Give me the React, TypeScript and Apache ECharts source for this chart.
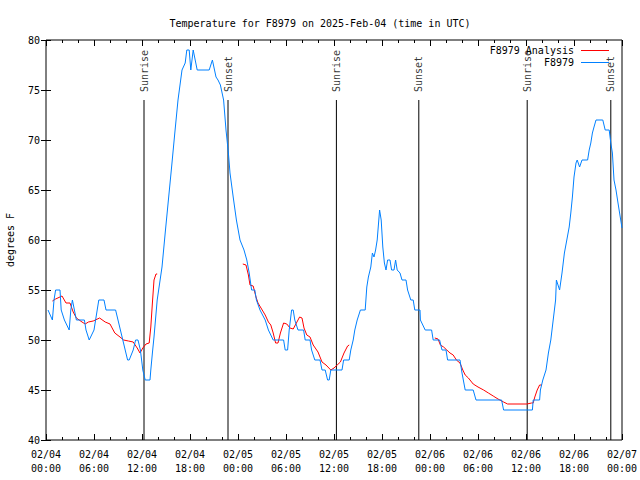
import React, { useEffect, useRef } from "react";
import * as echarts from "echarts";

// hours since 2025-02-04 00:00 UTC
const blueHours = [
  0.25, 0.8, 1.0, 1.2, 1.75, 1.9, 2.3, 2.9, 3.1, 3.3, 3.8, 4.8, 5.0, 5.4, 6.0, 6.4, 6.6, 7.25, 7.5, 8.7,
  9.3, 9.6, 9.9, 10.2, 10.4, 10.9, 11.2, 11.5, 11.8, 12.1, 12.4, 13.0, 13.1, 13.3, 13.5, 13.9, 14.5, 14.9,
  15.3, 15.7, 16.1, 16.5, 17.0, 17.4, 17.6, 17.9, 18.1, 18.4, 18.9, 20.4, 20.8, 21.25, 21.5, 21.8, 22.2,
  22.5, 22.8, 23.0, 23.4, 23.8, 24.25, 24.75, 25.1, 25.4, 25.7, 26.1, 26.3, 26.75, 27.4, 27.8, 28.4, 29.7,
  29.9, 30.2, 30.4, 30.7, 30.9, 31.1, 31.5, 32.2, 32.4, 33.0, 33.2, 33.6, 34.25, 34.5, 34.9, 35.2, 35.4,
  35.6, 37.0, 37.2, 37.9, 38.1, 38.4, 38.6, 38.9, 39.3, 39.9, 40.1, 40.3, 40.6, 40.8, 41.0, 41.2, 41.4,
  41.7, 41.9, 42.1, 42.3, 42.5, 42.7, 43.0, 43.2, 43.5, 43.7, 43.9, 44.25, 44.5, 45.0, 45.2, 45.6, 45.9,
  46.1, 46.75, 46.8, 47.4, 48.2, 48.4, 49.2, 49.5, 50.0, 50.2, 51.75, 52.0, 52.4, 53.4, 53.75, 56.95, 57.2,
  60.8, 60.9, 61.7, 61.8, 62.1, 62.5, 62.8, 63.1, 63.4, 63.7, 63.8, 64.2, 64.5, 64.8, 65.1, 65.4, 65.6,
  65.8, 66.0, 66.25, 66.4, 66.7, 67.0, 67.7, 67.9, 68.1, 68.3, 68.5, 68.75, 69.6, 69.9, 70.4, 70.6, 70.8,
  71.0, 71.25, 71.5, 71.7, 72.0,
];
const blueTemps = [
  53, 52, 54, 55, 55, 53, 52, 51, 53, 54, 52, 52, 51, 50, 51, 53, 54, 54, 53, 53,
  51, 50, 49, 48, 48, 49, 50, 50, 49, 47, 46, 46, 47, 48.7, 50.3, 54, 57.3, 60.7,
  64, 67.3, 70.7, 74, 77, 77.7, 79, 79, 77, 79, 77, 77, 78, 76.3, 76, 75.5, 74,
  71, 68.7, 66.7, 64.3, 62, 60, 59, 58, 56.7, 55, 55, 54, 53, 52, 51, 50, 50,
  49, 49, 51, 53, 53, 52, 51, 51, 50, 50, 49, 48, 48, 47, 47, 46, 46,
  47, 47, 48, 48, 49, 50, 51, 52, 53, 53, 55.3, 56.3, 57.3, 58.7, 58.3, 59, 60,
  63, 62, 59.3, 57.7, 57, 58, 58, 57, 57, 58, 57, 56.7, 56, 56, 55, 54, 54,
  53, 53, 52, 51, 51, 50, 50, 49, 49, 48, 48, 46.7, 45, 45, 44, 44, 43,
  43, 44, 44, 45, 46, 47, 48.7, 50, 52, 54, 56, 55, 56.7, 58.7, 60, 61.3, 62.7,
  64.3, 66.3, 67.7, 68, 67.3, 68, 68, 69, 69.7, 70.7, 71.3, 72, 72, 71, 71, 69.7, 68.7,
  66, 65, 63.7, 62.7, 61.2,
];

const analysis1Hours = [0.8, 1.2, 2.0, 2.5, 3.0, 3.4, 3.8, 4.5, 4.9, 5.3, 5.9, 6.7, 7.4, 8.0, 8.6, 9.25, 9.7, 10.3, 10.9, 11.4, 11.75, 12.1, 12.5, 12.9, 13.1, 13.3, 13.5, 13.75, 13.9];
const analysis1Temps = [53.9, 54.1, 54.4, 53.7, 53.7, 52.8, 52.2, 51.8, 51.6, 51.8, 51.9, 52.2, 51.8, 51.6, 50.7, 50.3, 50.0, 49.9, 49.8, 49.2, 48.7, 49.2, 49.6, 49.7, 51.3, 53.7, 56.0, 56.6, 56.6];
const analysis2Hours = [24.6, 25.0, 25.3, 25.5, 25.9, 26.25, 26.5, 26.95, 27.4, 27.8, 28.1, 28.4, 28.7, 29.0, 29.3, 29.7, 30.1, 30.5, 30.9, 31.3, 31.7, 32.0, 32.25, 32.6, 33.0, 33.4, 34.0, 34.5, 35.0, 35.6, 36.0, 36.4, 36.8, 37.25, 37.7, 37.9];
const analysis2Temps = [57.6, 57.5, 56.5, 55.5, 55.4, 54.3, 53.7, 53.1, 52.5, 51.8, 51.5, 50.7, 49.7, 49.7, 50.7, 51.7, 51.6, 51.2, 51.1, 51.7, 52.3, 52.2, 51.2, 50.5, 50.3, 49.5, 48.8, 47.8, 47.5, 47.0, 47.2, 47.5, 47.8, 48.7, 49.4, 49.5];
const analysis3Hours = [48.6, 49.0, 49.3, 49.7, 50.1, 50.5, 50.9, 51.3, 51.75, 52.1, 52.4, 52.8, 53.4, 54.0, 54.7, 55.3, 55.9, 56.5, 57.2, 57.7, 60.1, 60.7, 60.9, 61.1, 61.4, 61.7, 62.0];
const analysis3Temps = [50.2, 50.1, 49.5, 49.3, 49.0, 48.7, 48.5, 48.0, 47.7, 47.0, 46.5, 46.2, 45.6, 45.3, 45.0, 44.7, 44.4, 44.1, 43.8, 43.6, 43.6, 43.7, 43.7, 44.3, 45.0, 45.5, 45.5];

const sunHours = [12.25, 22.75, 36.3, 46.6, 60.15, 70.6];
const sunLabels = ["Sunrise", "Sunset", "Sunrise", "Sunset", "Sunrise", "Sunset"];
const sunLineTop = 74;
const sunLabelAt = 74.8;

const titleText = "Temperature for F8979 on 2025-Feb-04 (time in UTC)";
const analysisName = "F8979 Analysis";
const obsName = "F8979";
const yName = "degrees F";

const FONT = "DejaVu Sans Mono";
const RED = "#ff0000";
const BLUE = "#0080ff";

const zip = (a: number[], b: number[]) => a.map((v, i) => [v, b[i]]);

export default function App() {
  const ref = useRef<HTMLDivElement>(null);
  useEffect(() => {
    if (!ref.current) return;
    const chart = echarts.init(ref.current, null, { renderer: "svg" });
    const fmtX = (v: number) => {
      const day = 4 + Math.floor(v / 24);
      const hh = v % 24;
      return `02/0${day}\n${String(hh).padStart(2, "0")}:00`;
    };
    const textStyle = { fontFamily: FONT, fontSize: 10, color: "#000" };
    const redSeg = (h: number[], t: number[]) => ({
      name: analysisName,
      type: "line",
      data: zip(h, t),
      showSymbol: false,
      symbol: "none",
      color: RED,
      lineStyle: { color: RED, width: 1 },
      itemStyle: { color: RED },
      z: 3,
    });
    const sunLineData: any[] = [];
    sunHours.forEach((h) => {
      sunLineData.push([h, 40], [h, sunLineTop], [h, "-"]);
    });
    chart.setOption({
      animation: false,
      backgroundColor: "#fff",
      title: {
        text: titleText,
        left: "center",
        top: 13,
        textStyle: { ...textStyle, fontWeight: "normal" },
      },
      legend: {
        data: [
          { name: analysisName, icon: "rect", itemStyle: { color: RED } },
          { name: obsName, icon: "rect", itemStyle: { color: BLUE } },
        ],
        orient: "vertical",
        right: 31,
        top: 45,
        padding: 0,
        align: "right",
        itemWidth: 28,
        itemHeight: 1,
        itemGap: 1,
        textStyle: { ...textStyle, lineHeight: 11, padding: [0, 2, 0, 0] },
      },
      grid: {
        left: 46,
        right: 18,
        top: 40,
        bottom: 40,
        show: true,
        containLabel: false,
        outerBoundsMode: "none",
        borderColor: "#000",
        borderWidth: 1,
        backgroundColor: "transparent",
      },
      xAxis: [
        {
          type: "value",
          min: 0,
          max: 72,
          interval: 6,
          position: "bottom",
          axisLine: { show: false },
          axisTick: { show: true, inside: true, length: 6, lineStyle: { color: "#000" } },
          minorTick: { show: true, splitNumber: 3, length: 3, lineStyle: { color: "#000" } },
          splitLine: { show: false },
          axisLabel: { ...textStyle, margin: 7, lineHeight: 14, formatter: fmtX },
        },
        {
          type: "value",
          min: 0,
          max: 72,
          interval: 6,
          position: "top",
          axisLine: { show: false },
          axisTick: { show: true, inside: true, length: 6, lineStyle: { color: "#000" } },
          minorTick: { show: true, splitNumber: 3, length: 3, lineStyle: { color: "#000" } },
          splitLine: { show: false },
          axisLabel: { show: false },
        },
      ],
      yAxis: [
        {
          type: "value",
          min: 40,
          max: 80,
          interval: 5,
          position: "left",
          name: yName,
          nameLocation: "middle",
          nameGap: 31,
          nameRotate: 90,
          nameTextStyle: textStyle,
          axisLine: { show: false },
          axisTick: { show: true, inside: true, length: 5, lineStyle: { color: "#000" } },
          splitLine: { show: false },
          axisLabel: { ...textStyle, margin: 6 },
        },
        {
          type: "value",
          min: 40,
          max: 80,
          interval: 5,
          position: "right",
          axisLine: { show: false },
          axisTick: { show: true, inside: true, length: 5, lineStyle: { color: "#000" } },
          splitLine: { show: false },
          axisLabel: { show: false },
        },
      ],
      series: [
        {
          name: "sunlines",
          type: "line",
          data: sunLineData,
          showSymbol: false,
          symbol: "none",
          connectNulls: false,
          color: "#000",
          lineStyle: { color: "#000", width: 1 },
          z: 2,
          silent: true,
        },
        {
          name: "sunlabels",
          type: "scatter",
          data: sunHours.map((h, i) => ({ value: [h, sunLabelAt], name: sunLabels[i] })),
          symbolSize: 0,
          z: 2,
          label: {
            show: true,
            position: "inside",
            rotate: 90,
            align: "left",
            verticalAlign: "middle",
            formatter: (p: any) => p.name,
            ...textStyle,
          },
          silent: true,
        },
        redSeg(analysis1Hours, analysis1Temps),
        redSeg(analysis2Hours, analysis2Temps),
        redSeg(analysis3Hours, analysis3Temps),
        {
          name: obsName,
          type: "line",
          data: zip(blueHours, blueTemps),
          showSymbol: false,
          symbol: "none",
          color: BLUE,
          lineStyle: { color: BLUE, width: 1 },
          itemStyle: { color: BLUE },
          z: 4,
        },
      ],
    });
    return () => chart.dispose();
  }, []);
  return <div ref={ref} style={{ width: 640, height: 480, position: "absolute", left: 0, top: 0 }} />;
}
